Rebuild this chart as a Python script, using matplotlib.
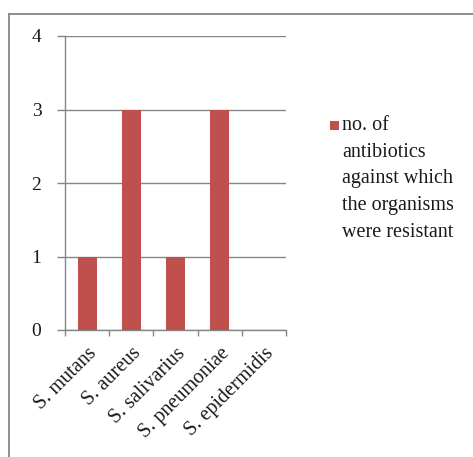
import matplotlib
matplotlib.use("Agg")
import matplotlib.pyplot as plt
from matplotlib.patches import Rectangle

# Data
organisms = ["S. mutans", "S. aureus", "S. salivarius", "S. pneumoniae", "S. epidermidis"]
resistant_counts = [1, 3, 1, 3, 0]
series_label = "no. of\nantibiotics\nagainst which\nthe organisms\nwere resistant"
y_ticks = [0, 1, 2, 3, 4]

BAR_COLOR = "#C0504D"
LINE_COLOR = "#868686"
TEXT_COLOR = "#1a1a1a"
FONT = "Liberation Serif"

W, H = 473, 457
fig = plt.figure(figsize=(W / 100, H / 100), dpi=100)
fig.patch.set_facecolor("white")

# outer chart frame (open to the right and bottom)
fig.add_artist(plt.Line2D([8.5 / W, 8.5 / W], [0, 1 - 13.5 / H], transform=fig.transFigure,
                          color=LINE_COLOR, lw=1.3))
fig.add_artist(plt.Line2D([8.5 / W, 1], [1 - 13.5 / H, 1 - 13.5 / H], transform=fig.transFigure,
                          color=LINE_COLOR, lw=1.3))

left, right, top, bottom = 65, 286, 36, 330
ax = fig.add_axes([left / W, 1 - bottom / H, (right - left) / W, (bottom - top) / H])

x = list(range(len(organisms)))
ax.bar(x, resistant_counts, width=0.43, color=BAR_COLOR, zorder=3)

ax.set_xlim(-0.5, len(organisms) - 0.5)
ax.set_ylim(0, 4)
ax.set_yticks(y_ticks)
ax.set_yticklabels([str(v) for v in y_ticks], fontsize=14, family=FONT, color=TEXT_COLOR)
ax.yaxis.grid(True, color=LINE_COLOR, lw=1.0, zorder=0)
ax.set_axisbelow(True)

ax.set_xticks(x)
ax.set_xticklabels(organisms, rotation=45, ha="right", rotation_mode="anchor",
                   fontsize=14.5, family=FONT, color=TEXT_COLOR)
ax.set_xticks([i - 0.5 for i in range(len(organisms) + 1)], minor=True)
ax.tick_params(axis="x", which="major", length=0, pad=10)
ax.tick_params(axis="x", which="minor", length=4, width=1, color=LINE_COLOR, direction="out")
ax.tick_params(axis="y", length=6, width=1, color=LINE_COLOR, pad=11)

for side in ("top", "right"):
    ax.spines[side].set_visible(False)
for side in ("left", "bottom"):
    ax.spines[side].set_color(LINE_COLOR)
    ax.spines[side].set_linewidth(1.0)

# legend: swatch beside the first line of the series name
fig.add_artist(Rectangle((330 / W, 1 - 130 / H), 9 / W, 9 / H, transform=fig.transFigure,
                         facecolor=BAR_COLOR, edgecolor="none"))
fig.text(342 / W, 1 - 116 / H, series_label, fontsize=14.5, family=FONT, color=TEXT_COLOR,
         ha="left", va="top", linespacing=1.55)

fig.savefig("out.png", dpi=100, facecolor="white")
